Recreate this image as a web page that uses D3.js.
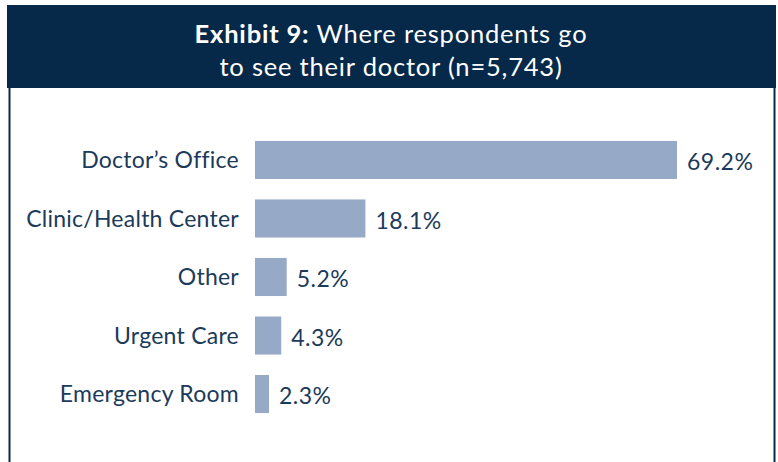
<!DOCTYPE html>
<html>
<head>
<meta charset="utf-8">
<script src="https://cdn.jsdelivr.net/npm/d3@7"></script>
<style>
  body { margin: 0; background: #fff; }
  svg { display: block; }
  text { font-family: Lato, "Open Sans", sans-serif; }
</style>
</head>
<body>
<svg id="chart" width="778" height="462"></svg>
<script>
const categories = ["Doctor’s Office", "Clinic/Health Center", "Other", "Urgent Care", "Emergency Room"];
const values = [69.2, 18.1, 5.2, 4.3, 2.3];
const valueLabels = ["69.2%", "18.1%", "5.2%", "4.3%", "2.3%"];

const width = 778, height = 462;
const navy = "#06294a";
const textColor = "#1c3a5a";
const barColor = "#96a9c6";

const svg = d3.select("#chart");

// header band + frame
svg.append("rect")
    .attr("x", 7).attr("y", 5)
    .attr("width", 769).attr("height", 83)
    .attr("fill", navy);

svg.append("line")
    .attr("x1", 9.5).attr("x2", 9.5)
    .attr("y1", 88).attr("y2", height)
    .attr("stroke", navy).attr("stroke-width", 2);
svg.append("line")
    .attr("x1", 774.5).attr("x2", 774.5)
    .attr("y1", 88).attr("y2", height)
    .attr("stroke", navy).attr("stroke-width", 2);

const title = svg.append("text")
    .attr("x", 391).attr("y", 43)
    .attr("text-anchor", "middle")
    .attr("fill", "#fff")
    .attr("font-size", 25.5)
    .attr("letter-spacing", 0.8);
title.append("tspan").attr("font-weight", "bold").text("Exhibit 9:");
title.append("tspan").text(" Where respondents go");
svg.append("text")
    .attr("x", 391).attr("y", 76)
    .attr("text-anchor", "middle")
    .attr("fill", "#fff")
    .attr("font-size", 25.5)
    .attr("letter-spacing", 0.8)
    .text("to see their doctor (n=5,743)");

// bars
const x0 = 255;
const x = d3.scaleLinear().domain([0, 69.2]).range([x0, 677]);
const y = d3.scaleBand().domain(categories).range([131, 423]).paddingInner(0.35).paddingOuter(0.17);

const rows = svg.selectAll("g.row")
    .data(categories)
    .enter().append("g")
    .attr("class", "row");

rows.append("rect")
    .attr("x", x0)
    .attr("y", d => y(d))
    .attr("width", (d, i) => x(values[i]) - x0)
    .attr("height", y.bandwidth())
    .attr("fill", barColor);

rows.append("text")
    .attr("x", 239)
    .attr("y", d => y(d) + y.bandwidth() / 2)
    .attr("dy", "0.35em")
    .attr("text-anchor", "end")
    .attr("fill", textColor)
    .attr("font-size", 23)
    .attr("letter-spacing", 0.25)
    .text(d => d);

rows.append("text")
    .attr("x", (d, i) => x(values[i]) + 10)
    .attr("y", d => y(d) + y.bandwidth() / 2 + 2)
    .attr("dy", "0.35em")
    .attr("fill", textColor)
    .attr("font-size", 23)
    .attr("letter-spacing", 0.5)
    .text((d, i) => valueLabels[i]);
</script>
</body>
</html>
